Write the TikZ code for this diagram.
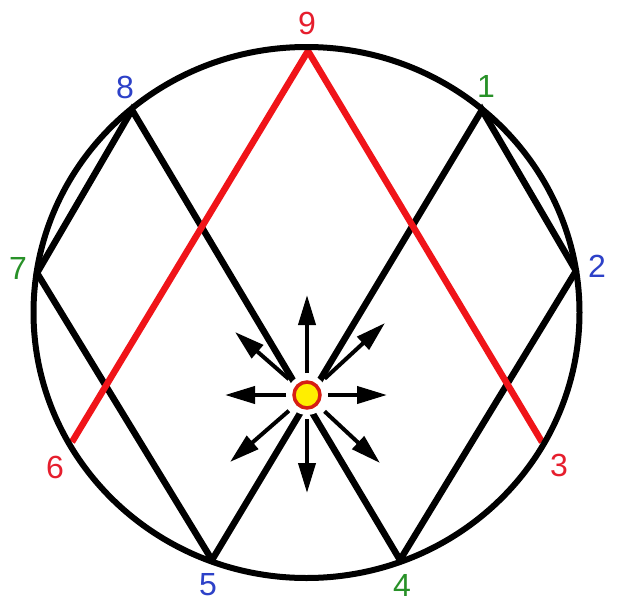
\documentclass[tikz,border=0pt]{standalone}
\usepackage{fontspec}
\setmainfont{Liberation Sans}
\usetikzlibrary{arrows.meta}
\definecolor{redline}{RGB}{240,20,25}
\definecolor{redlab}{RGB}{230,30,45}
\definecolor{bluelab}{RGB}{45,65,200}
\definecolor{greenlab}{RGB}{40,145,40}
\definecolor{dotfill}{RGB}{255,238,0}
\definecolor{dotring}{RGB}{215,30,20}
\begin{document}
\begin{tikzpicture}[x=1pt,y=-1pt,
  chord/.style={draw=black,line width=6.5pt,line join=miter,line cap=round},
  redchord/.style={draw=redline,line width=6.5pt,line join=miter},
  rim/.style={draw=black,line width=6pt},
  ray/.style={draw=black,line width=4pt,-{Triangle[length=30pt,width=17pt]}},
  lab/.style={font=\fontsize{32}{32}\selectfont,inner sep=0pt}]
\useasboundingbox (0,0) rectangle (622,608);
\fill[white] (0,0) rectangle (622,608);
% points on the rim
\coordinate (p1) at (482,110);
\coordinate (p2) at (576,271);
\coordinate (p3) at (542,442);
\coordinate (p4) at (400,560);
\coordinate (p5) at (212,560);
\coordinate (p6) at (72,442);
\coordinate (p7) at (37,273);
\coordinate (p8) at (132,110);
\coordinate (p9) at (308,51);
% black chords
\draw[chord] (p7) -- (p8) -- (p4);
\draw[chord] (p7) -- (p5);
\draw[chord] (p2) -- (p1) -- (p5);
\draw[chord] (p2) -- (p4);
% red chords
\draw[redchord] (p6) -- (p9) -- (p3);
% rim
\draw[rim] (306.5,312.5) ellipse [x radius=273pt, y radius=265.5pt];
% source
\coordinate (c) at (307,395);
\fill[white] (c) circle [radius=20pt];
\node[circle,draw=dotring,fill=dotfill,line width=3.5pt,minimum size=26pt,inner sep=0pt] (dot) at (c) {};
% ray tips
\coordinate (tu) at (307,295);
\coordinate (td) at (307,493);
\coordinate (tl) at (225,395);
\coordinate (tr) at (387,395);
\coordinate (tul) at (235,332);
\coordinate (tur) at (385,323);
\coordinate (tll) at (230,462);
\coordinate (tlr) at (380,463);
\draw[ray,shorten <=22pt] (c) -- (tu);
\draw[ray,shorten <=24pt] (c) -- (td);
\draw[ray,shorten <=21pt] (c) -- (tl);
\draw[ray,shorten <=21pt] (c) -- (tr);
\draw[ray,shorten <=24pt] (c) -- (tul);
\draw[ray,shorten <=24pt] (c) -- (tur);
\draw[ray,shorten <=24pt] (c) -- (tll);
\draw[ray,shorten <=24pt] (c) -- (tlr);
% labels
\node[lab,text=greenlab] (l1) at (486,86) {1};
\node[lab,text=bluelab] (l2) at (597,266) {2};
\node[lab,text=redlab] (l3) at (559,465) {3};
\node[lab,text=greenlab] (l4) at (402,585) {4};
\node[lab,text=bluelab] (l5) at (208,585) {5};
\node[lab,text=redlab] (l6) at (55,467) {6};
\node[lab,text=greenlab] (l7) at (18,268) {7};
\node[lab,text=bluelab] (l8) at (125,87) {8};
\node[lab,text=redlab] (l9) at (307,23) {9};
\end{tikzpicture}
\end{document}
